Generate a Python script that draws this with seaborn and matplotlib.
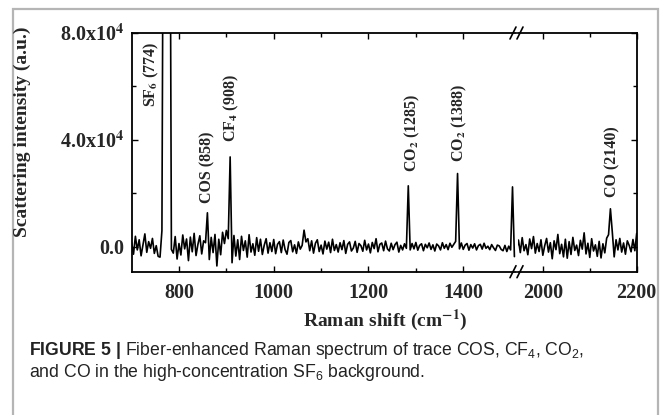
import numpy as np
import pandas as pd
import seaborn as sns
import matplotlib as mpl
import matplotlib.pyplot as plt
import matplotlib.ticker as mticker
from matplotlib import font_manager
from matplotlib.lines import Line2D
from matplotlib.patches import Rectangle

sns.set_theme(style="white")

installed = {f.name for f in font_manager.fontManager.ttflist}
caption_font = "Liberation Sans Narrow" if "Liberation Sans Narrow" in installed else "Liberation Sans"
caption_size = 14 if caption_font == "Liberation Sans Narrow" else 12.7

mpl.rcParams["font.family"] = ["Liberation Serif", "DejaVu Serif"]
mpl.rcParams["mathtext.fontset"] = "stix"
# the caption uses the "custom" math set, so point it at the sans font
mpl.rcParams["mathtext.rm"] = caption_font
mpl.rcParams["mathtext.it"] = caption_font + ":italic"
mpl.rcParams["mathtext.bf"] = caption_font + ":bold"
mpl.rcParams["figure.dpi"] = 100

# Raman spectrum, intensity in 10^3 a.u., sampled every 4 cm-1
shift_left = np.arange(700, 1509, 4)
intensity_left = [
    # 700 - 760
    1.5, -2.8, 3.9, -1.2, 2.6, -3.4, 0.8, 4.8, -2.1, 1.9, -0.6, 3.1, -2.5, 0.4, -3.6, -3.9,
    # SF6 band 764 - 784 (off scale)
    6.0, 200, 220, 220, 200, -1.0,
    # 788 - 852
    -2.4, 3.8, -4.6, 1.2, -3.1, 4.4, -0.8, 2.9, -5.2, 3.6, -1.9, 5.0, -3.3, 0.9, 4.1, -2.7, 2.2,
    # COS 856 - 864
    1.5, 12.7, -4.8,
    # 868 - 904
    3.5, -2.2, 4.6, -7.2, 2.8, -3.0, 5.4, 1.2, 6.1, 3.0,
    # CF4 908 - 912
    33.6, -6.0,
    # 916 - 1056
    4.2, -3.5, 2.6, -4.8, 3.9, -1.4, 2.2, -3.9, 4.5, -2.0, 1.1, -3.2, 3.4, -1.7, 2.8, -2.9, 0.6, 3.0,
    -2.4, 1.5, -1.8, 2.7, -2.6, 0.9, 1.9, -2.2, 2.5, -1.1, -2.8, 1.6, 2.3, -1.9, 0.7, -2.5, 1.8, -0.9,
    # 1060 - 1068
    0.5, 6.2, 1.8,
    # 1072 - 1280
    3.0, -1.5, 2.2, -2.4, 1.3, 2.6, -1.8, 0.6, -2.7, 2.1, -0.9, 1.7, -2.2, 2.8, -1.4, 0.8, -2.0, 1.5,
    -1.1, 2.3, -2.5, 0.9, 1.8, -1.6, -0.5, 2.0, -2.1, 1.2, 0.4, -1.7, 2.4, -1.2, 1.0, -2.3, 1.6, -0.7,
    3.0, -1.9, 0.9, 1.4, -1.5, 2.1, -0.8, -1.6, 1.3, -1.1, 0.8, 1.7, -2.0, 0.5, -1.2, 1.1, -0.6,
    # CO2 1284 - 1288
    22.8, -1.2,
    # 1292 - 1384
    1.2, -0.8, 1.6, -1.3, 0.5, 1.1, -1.5, 0.9, -0.4, 1.4, -1.0, 0.7, -1.6, 1.0, 0.3, -1.2, 1.5, -0.6,
    0.8, -1.1, 1.3, -0.2, 0.9, 2.0,
    # CO2 1388 - 1392
    27.4, -0.8,
    # 1396 - 1500
    1.4, -1.0, 0.6, 1.2, -1.3, 0.8, -0.5, 1.1, -1.2, 0.4, 0.9, -0.9, 1.3, -0.6, 0.2, -1.1, 0.8, -0.4,
    -1.4, 0.6, 0.3, -1.0, -1.5, 0.5, -1.8, 0.2, -1.2,
    # 1504 - 1508
    22.4, -3.7,
]

shift_right = np.arange(1944, 2201, 4)
intensity_right = [
    # 1944 - 2140
    -1.0, 2.5, -2.2, 3.4, -1.5, 0.8, -3.0, 2.9, -0.7, 3.8, -2.4, 1.2, -1.8, 2.6, -3.2, 0.4, 3.1, -2.0,
    1.5, -4.5, 2.2, -1.1, 4.6, -2.6, 0.9, -3.8, 2.8, -4.3, 1.9, -2.9, 3.5, -1.4, 0.6, -3.3, 2.4, -0.9,
    5.2, -2.7, 1.3, -4.0, 3.0, -1.6, 0.7, -3.6, 2.0, -4.2, 1.1, -2.3, 3.2, 4.5,
    # CO 2144 - 2152
    14.2, 5.5, -3.8,
    # 2156 - 2200
    2.6, -1.2, 3.1, -2.0, 1.4, -2.8, 2.2, 0.5, -1.9, 2.7, -1.5, 5.0,
]

peak_labels = [r"SF$_{\mathbf{6}}$ (774)", "COS (858)", r"CF$_{\mathbf{4}}$ (908)",
               r"CO$_{\mathbf{2}}$ (1285)", r"CO$_{\mathbf{2}}$ (1388)", "CO (2140)"]
label_x = [742, 860, 911, 1292, 1391, 2149]
label_y = [52300, 16200, 39300, 28000, 31800, 18700]

y_ticks = [0, 40000, 80000]
y_tick_labels = ["0.0", r"4.0x10$^{\mathbf{4}}$", r"8.0x10$^{\mathbf{4}}$"]
x_ticks_left = [800, 1000, 1200, 1400]
x_ticks_right = [2000, 2200]

df_left = pd.DataFrame({"shift": shift_left, "intensity": np.array(intensity_left) * 1000})
df_right = pd.DataFrame({"shift": shift_right, "intensity": np.array(intensity_right) * 1000})

W, H = 663, 415
fig = plt.figure(figsize=(W / 100, H / 100))
bot = 1 - 271.7 / H
hgt = (271.7 - 33) / H
ax1 = fig.add_axes([131.6 / W, bot, 384.7 / W, hgt])
ax2 = fig.add_axes([517.5 / W, bot, 119.2 / W, hgt])

for ax, df in [(ax1, df_left), (ax2, df_right)]:
    sns.lineplot(data=df, x="shift", y="intensity", ax=ax, color="black",
                 lw=1.2, estimator=None, sort=False)
    ax.set_ylim(-9350, 80000)
    ax.set_xlabel("")
    ax.set_ylabel("")
    for s in ax.spines.values():
        s.set_linewidth(1.3)
        s.set_color("black")
    ax.tick_params(which="both", direction="in", width=1.0, color="black",
                   labelsize=14.5, top=True, bottom=True)
    ax.tick_params(which="major", length=4.5, pad=8)
    ax.tick_params(which="minor", length=2.8)
    ax.yaxis.set_minor_locator(mticker.FixedLocator([20000, 60000]))

ax1.set_xlim(700, 1512)
ax2.set_xlim(1946, 2200)
ax1.spines["right"].set_visible(False)
ax2.spines["left"].set_visible(False)

ax1.set_xticks(x_ticks_left)
ax1.xaxis.set_minor_locator(mticker.FixedLocator([900, 1100, 1300]))
ax2.set_xticks(x_ticks_right)
ax2.xaxis.set_minor_locator(mticker.FixedLocator([2100]))

ax1.set_yticks(y_ticks)
ax1.set_yticklabels(y_tick_labels)
ax1.tick_params(axis="y", which="both", left=True, right=False, pad=5)
ax2.set_yticks(y_ticks)
ax2.tick_params(axis="y", which="both", left=False, right=True, labelleft=False)
for lab in ax1.get_xticklabels() + ax1.get_yticklabels() + ax2.get_xticklabels():
    lab.set_fontweight("bold")

for txt, x, y in zip(peak_labels, label_x, label_y):
    ax = ax2 if x > 1900 else ax1
    ax.text(x, y, txt, rotation=90, ha="center", va="bottom", fontsize=11.5,
            fontweight="bold")

# break marks on top and bottom spines
for xb in (513.0, 520.0):
    for yb in (33.0, 271.7):
        fig.add_artist(Line2D([(xb - 3) / W, (xb + 3) / W],
                              [1 - (yb + 6) / H, 1 - (yb - 6) / H],
                              color="black", lw=1.2, transform=fig.transFigure))

fig.text(22 / W, 1 - 131.5 / H, "Scattering intensity (a.u.)", rotation=90,
         ha="center", va="center", fontsize=14, fontweight="bold")
fig.text(385.5 / W, 1 - 320 / H, r"Raman shift (cm$^{\mathbf{-1}}$)",
         ha="center", va="center", fontsize=14, fontweight="bold")

fig.text(29 / W, 1 - 350 / H,
         r"$\mathbf{FIGURE\ 5\ |}$ Fiber-enhanced Raman spectrum of trace COS, CF$_4$, CO$_2$,",
         ha="left", va="center", fontsize=caption_size, family=caption_font,
         math_fontfamily="custom", color="#222222")
fig.text(29 / W, 1 - 372 / H,
         r"and CO in the high-concentration SF$_6$ background.",
         ha="left", va="center", fontsize=caption_size, family=caption_font,
         math_fontfamily="custom", color="#222222")

fig.add_artist(Rectangle((13 / W, -0.1), (658 - 13) / W, 1.1 - 9 / H, transform=fig.transFigure,
                         fill=False, ec="#b5b5b5", lw=1.6))

fig.savefig("out.png", dpi=100)
